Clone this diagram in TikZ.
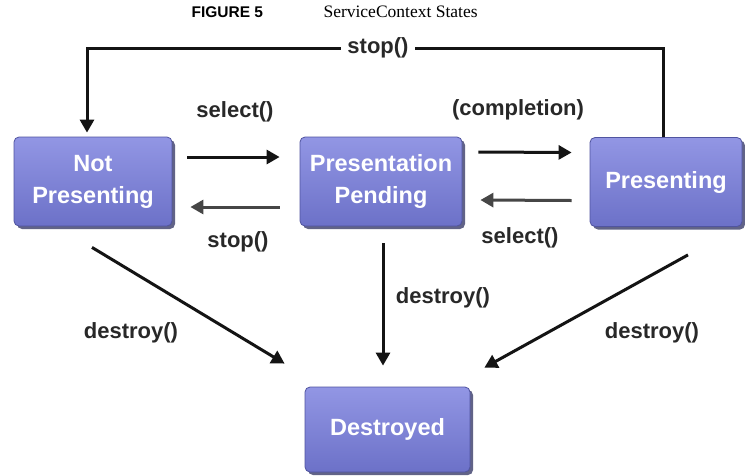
\documentclass[tikz,border=0pt]{standalone}
\usepackage{fontspec}
\setmainfont{Liberation Serif}
\setsansfont{Liberation Sans}
\usetikzlibrary{shadows,arrows.meta}
\definecolor{boxtop}{RGB}{146,150,228}
\definecolor{boxbot}{RGB}{108,113,200}
\definecolor{boxedge}{RGB}{80,84,160}
\definecolor{shadowcol}{RGB}{45,48,95}
\definecolor{linecol}{RGB}{20,20,20}
\definecolor{greyline}{RGB}{70,70,70}
\definecolor{labcol}{RGB}{40,40,40}
\tikzset{
  state/.style={rounded corners=5pt, top color=boxtop, bottom color=boxbot,
    draw=boxedge, line width=0.8pt, align=center, text=white,
    font=\sffamily\bfseries\fontsize{23.5}{32}\selectfont, inner sep=0pt,
    drop shadow={shadow xshift=3pt, shadow yshift=-3pt, fill=shadowcol, opacity=0.75}},
  lab/.style={font=\sffamily\bfseries\fontsize{22}{26}\selectfont, text=labcol, inner sep=2pt},
  conn/.style={draw=linecol, line width=3pt, -{Triangle[length=13pt,width=14pt]}},
  greyconn/.style={conn, draw=greyline}
}
\begin{document}
\begin{tikzpicture}[x=1pt,y=-1pt]
\useasboundingbox[fill=white] (0,0) rectangle (745,475);
% title
\node[font=\sffamily\bfseries\fontsize{15.5}{17}\selectfont, anchor=west] (fig) at (188,12) {FIGURE 5};
\node[font=\fontsize{17.5}{19}\selectfont, anchor=west] (ttl) at (320,12) {ServiceContext States};
% states
\node[state, minimum width=158pt, minimum height=89pt] (np) at (93,181.5) {Not\\Presenting};
\node[state, minimum width=162pt, minimum height=89pt] (pp) at (381,181.5) {Presentation\\Pending};
\node[state, minimum width=152pt, minimum height=89pt] (pr) at (666,182) {Presenting};
\node[state, minimum width=165pt, minimum height=85pt] (de) at (387.5,429.5) {Destroyed};
% top stop() loop
\coordinate (c1) at (663,48);
\coordinate (c2) at (87,48);
\draw[conn] ([xshift=-3pt]pr.north) -- (c1) -- (c2) -- ([shift={(-6,-4)}]np.north);
\node[lab, fill=white, inner xsep=6pt] (lstop1) at (378,48) {stop()};
% horizontal arrows
\draw[conn] ([shift={(15,-24.5)}]np.east) -- ([shift={(-20,-24.5)}]pp.west);
\draw[greyconn] ([shift={(-20,25.5)}]pp.west) -- ([shift={(18,25.5)}]np.east);
\draw[conn] ([shift={(16,-29.5)}]pp.east) -- ([shift={(-18,-29.5)}]pr.west);
\draw[greyconn] ([shift={(-18,18.5)}]pr.west) -- ([shift={(18,18.5)}]pp.east);
\node[lab] (lsel1) at (235,112) {select()};
\node[lab] (lcomp) at (518,110) {(completion)};
\node[lab] (lstop2) at (238,242) {stop()};
\node[lab] (lsel2) at (520,238) {select()};
% destroy arrows
\draw[conn] ([shift={(-1,21)}]np.south) -- ([shift={(-20,-23)}]de.north west);
\draw[conn] ([shift={(2,17)}]pp.south) -- ([shift={(-4.5,-21)}]de.north);
\draw[conn] ([shift={(22,28)}]pr.south) -- ([shift={(14,-19)}]de.north east);
\node[lab] (ld1) at (131,333) {destroy()};
\node[lab] (ld2) at (443,298) {destroy()};
\node[lab] (ld3) at (652,333) {destroy()};
\end{tikzpicture}
\end{document}
